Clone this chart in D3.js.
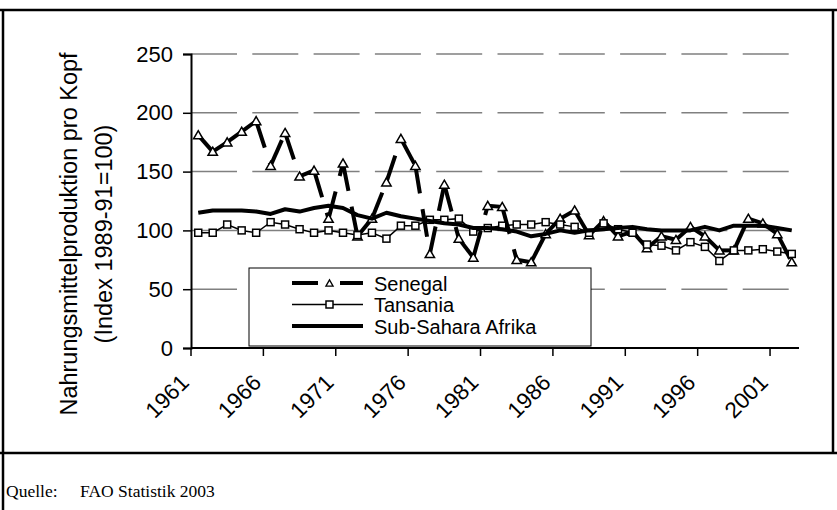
<!DOCTYPE html>
<html><head><meta charset="utf-8">
<script src="https://cdn.jsdelivr.net/npm/d3@7"></script>
<style>body{margin:0;background:#fff}svg{display:block}</style>
</head><body>
<svg id="c" width="837" height="510"></svg>
<script>
const years = [1961,1962,1963,1964,1965,1966,1967,1968,1969,1970,1971,1972,1973,1974,1975,1976,1977,1978,1979,1980,1981,1982,1983,1984,1985,1986,1987,1988,1989,1990,1991,1992,1993,1994,1995,1996,1997,1998,1999,2000,2001,2002];
const senegal = [181,167,175,184,193,155,183,146,151,110,157,95,110,141,178,155,80,139,93,77,121,120,75,73,97,110,117,96,108,95,99,85,95,92,103,95,83,83,110,106,97,73];
const tansania = [98,98,105,100,98,107,105,101,98,100,98,96,98,93,104,104,109,109,110,99,102,104,105,105,107,105,103,98,106,101,98,88,87,83,90,86,74,83,83,84,82,80];
const ssa = [115,117,117,117,116,114,118,116,119,121,119,113,110,115,112,110,108,106,105,102,102,101,99,95,97,100,98,100,101,102,103,101,100,100,100,103,100,104,104,104,102,100];
const yTicks = [0,50,100,150,200,250];
const xLabelYears = [1961,1966,1971,1976,1981,1986,1991,1996,2001];
const seriesNames = ["Senegal","Tansania","Sub-Sahara Afrika"];
const yTitle1 = "Nahrungsmittelproduktion pro Kopf";
const yTitle2 = "(Index 1989-91=100)";
const sourceLabel = "Quelle:";
const sourceText = "FAO Statistik 2003";

const svg = d3.select("#c");
const FONT = "Arial, 'Liberation Sans', sans-serif";
const SERIF = "'Times New Roman','Liberation Serif',serif";
const x = d3.scaleBand().domain(years).range([191, 799]);
const cx = d => x(d) + x.bandwidth()/2;
const y = d3.scaleLinear().domain([0,250]).range([348, 54]);

// frame
const frame = svg.append("g").attr("stroke","#000").attr("stroke-width",2.5);
frame.append("line").attr("x1",0).attr("x2",837).attr("y1",10).attr("y2",10);
frame.append("line").attr("x1",3).attr("x2",3).attr("y1",10).attr("y2",510);
frame.append("line").attr("x1",833).attr("x2",833).attr("y1",10).attr("y2",453);
frame.append("line").attr("x1",0).attr("x2",837).attr("y1",453).attr("y2",453);

// gridlines
svg.append("g").selectAll("line").data(yTicks.filter(t=>t>0)).join("line")
  .attr("x1",191).attr("x2",799).attr("y1",d=>y(d)).attr("y2",d=>y(d))
  .attr("stroke","#808080").attr("stroke-width",1.5).attr("stroke-dasharray","46,15.3");

// y axis
const ya = svg.append("g").attr("transform","translate(191,0)")
  .call(d3.axisLeft(y).tickValues(yTicks).tickSize(8).tickPadding(10));
ya.select(".domain").attr("stroke","#000").attr("stroke-width",2);
ya.selectAll(".tick line").attr("stroke","#000").attr("stroke-width",1.5);
ya.selectAll("text").attr("font-family",FONT).attr("font-size",22).attr("fill","#000");

// x axis
const edgeTicks = years.filter((d,i)=>i%5===0);
const xa = svg.append("g");
xa.append("line").attr("x1",191).attr("x2",799).attr("y1",348).attr("y2",348).attr("stroke","#000").attr("stroke-width",2);
xa.selectAll("line.t").data(edgeTicks).join("line").attr("class","t")
  .attr("x1",d=>x(d)).attr("x2",d=>x(d)).attr("y1",348).attr("y2",356)
  .attr("stroke","#000").attr("stroke-width",1.5);
xa.selectAll("text").data(xLabelYears).join("text")
  .attr("transform",d=>`translate(${cx(d)-8},${384}) rotate(-45)`)
  .attr("text-anchor","end").attr("font-family",FONT).attr("font-size",22.5)
  .text(d=>d);

// y title
svg.append("text").attr("transform","translate(77,234) rotate(-90)").attr("text-anchor","middle")
  .attr("font-family",FONT).attr("font-size",23.5).text(yTitle1);
svg.append("text").attr("transform","translate(112,234) rotate(-90)").attr("text-anchor","middle")
  .attr("font-family",FONT).attr("font-size",23.5).text(yTitle2);

// Senegal: per-segment dashed thick line
const sen = svg.append("g");
for (let i=0;i<years.length-1;i++){
  sen.append("line").attr("x1",cx(years[i])).attr("y1",y(senegal[i]))
    .attr("x2",cx(years[i+1])).attr("y2",y(senegal[i+1]))
    .attr("stroke","#000").attr("stroke-width",4).attr("stroke-dasharray","28,16");
}
const tri = d3.symbol().type(d3.symbolTriangle).size(38);
sen.selectAll("path").data(years).join("path")
  .attr("d",tri).attr("transform",(d,i)=>`translate(${cx(d)},${y(senegal[i])+1})`)
  .attr("fill","#fff").attr("stroke","#000").attr("stroke-width",1.5);

// Tansania
svg.append("path").datum(tansania)
  .attr("d",d3.line().x((d,i)=>cx(years[i])).y(d=>y(d)))
  .attr("fill","none").attr("stroke","#000").attr("stroke-width",1.5);
svg.append("g").selectAll("rect").data(tansania).join("rect")
  .attr("x",(d,i)=>cx(years[i])-3.5).attr("y",d=>y(d)-3.5).attr("width",7).attr("height",7)
  .attr("fill","#fff").attr("stroke","#000").attr("stroke-width",1.5);

// SSA
svg.append("path").datum(ssa)
  .attr("d",d3.line().x((d,i)=>cx(years[i])).y(d=>y(d)))
  .attr("fill","none").attr("stroke","#000").attr("stroke-width",4).attr("stroke-linejoin","round");

// legend
const lg = svg.append("g");
lg.append("rect").attr("x",249).attr("y",268).attr("width",342).attr("height",78)
  .attr("fill","#fff").attr("stroke","#000").attr("stroke-width",1);
const rows = [283, 304.5, 326];
lg.append("line").attr("x1",292).attr("x2",318).attr("y1",rows[0]).attr("y2",rows[0]).attr("stroke","#000").attr("stroke-width",4);
lg.append("line").attr("x1",340).attr("x2",363).attr("y1",rows[0]).attr("y2",rows[0]).attr("stroke","#000").attr("stroke-width",4);
lg.append("path").attr("d",d3.symbol().type(d3.symbolTriangle).size(22)).attr("transform",`translate(329.5,${rows[0]+1})`)
  .attr("fill","#fff").attr("stroke","#000").attr("stroke-width",1.3);
lg.append("line").attr("x1",292).attr("x2",363).attr("y1",rows[1]).attr("y2",rows[1]).attr("stroke","#000").attr("stroke-width",1.5);
lg.append("rect").attr("x",326).attr("y",rows[1]-3.5).attr("width",7).attr("height",7).attr("fill","#fff").attr("stroke","#000").attr("stroke-width",1.5);
lg.append("line").attr("x1",292).attr("x2",363).attr("y1",rows[2]).attr("y2",rows[2]).attr("stroke","#000").attr("stroke-width",4);
lg.selectAll("text").data(seriesNames).join("text")
  .attr("x",374).attr("y",(d,i)=>rows[i]+7.5).attr("font-family",FONT).attr("font-size",20).text(d=>d);

// source
svg.append("text").attr("x",6).attr("y",497).attr("font-family",SERIF).attr("font-size",17.5).text(sourceLabel);
svg.append("text").attr("x",80).attr("y",497).attr("font-family",SERIF).attr("font-size",17.5).text(sourceText);
</script>
</body></html>
